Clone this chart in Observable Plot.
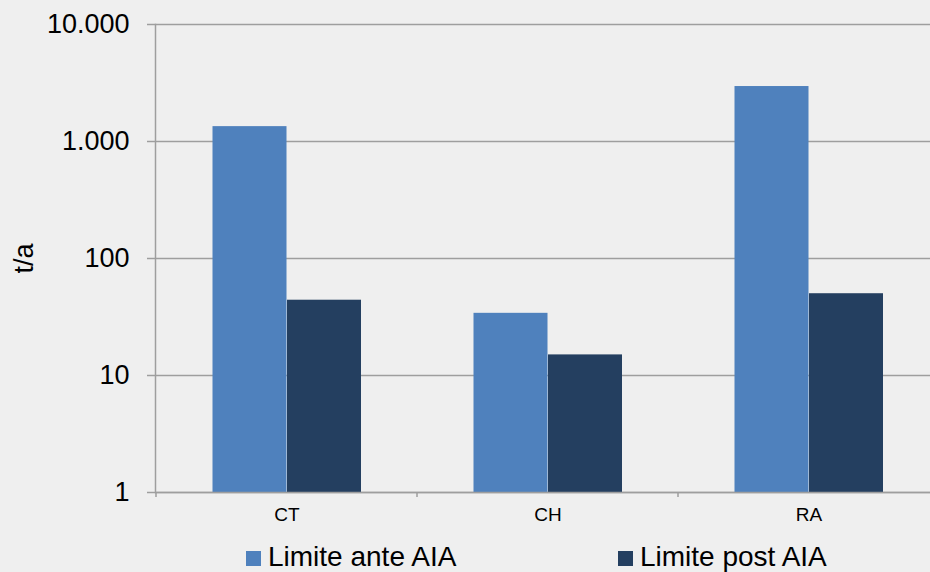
<!DOCTYPE html>
<html><head><meta charset="utf-8">
<script src="https://cdn.jsdelivr.net/npm/d3@7"></script>
<script src="https://cdn.jsdelivr.net/npm/@observablehq/plot@0.6"></script>
<style>
html,body{margin:0;padding:0;background:#efefef;overflow:hidden;}
#wrap{position:relative;width:930px;height:572px;overflow:hidden;font-family:"Liberation Sans",Arial,sans-serif;}
#chart{position:absolute;left:0;top:0;}
.leg{position:absolute;top:543px;font-size:28px;line-height:28px;color:#000;white-space:nowrap;}
.sw{position:absolute;width:15px;height:15px;top:551px;}
</style></head><body><div id="wrap"><div id="chart"></div></div>
<script>
const categories = ["CT", "CH", "RA"];
const seriesNames = ["Limite ante AIA", "Limite post AIA"];
const anteValues = [1340, 34, 2950];
const postValues = [44, 15, 50];
const yTicks = [1, 10, 100, 1000, 10000];
const yLabel = "t/a";
const colors = ["#4f81bd", "#243f60"];

const data = categories.map((c, i) => ({cat: c, ante: anteValues[i], post: postValues[i]}));
const fmt = d => d3.format(",")(d).replace(/,/g, ".");
const axisGray = "#9e9e9e";

// tick marks at category boundaries, placed with the x band scale
function boundaryTicks(index, scales, values, dims) {
  const g = d3.create("svg:g");
  const y0 = dims.height - dims.marginBottom;
  for (const c of categories) {
    const x = scales.x(c);
    g.append("line").attr("x1", x).attr("x2", x).attr("y1", y0).attr("y2", y0 + 5)
      .attr("stroke", axisGray).attr("stroke-width", 1.5);
  }
  return g.node();
}

const chart = Plot.plot({
  width: 940,
  height: 530,
  marginTop: 24,
  marginBottom: 38,
  marginLeft: 155,
  marginRight: 0,
  style: {background: "transparent", fontFamily: "'Liberation Sans', Arial, sans-serif", color: "#000"},
  x: {domain: categories, padding: 0, label: null},
  y: {type: "log", domain: [1, 10000], label: null},
  marks: [
    Plot.gridY(yTicks, {stroke: axisGray, strokeOpacity: 1, strokeWidth: 1.5}),
    Plot.barY(data, {x: "cat", y1: 1, y2: "ante", fill: colors[0], insetLeft: 56.5, insetRight: 130.5}),
    Plot.barY(data, {x: "cat", y1: 1, y2: "post", fill: colors[1], insetLeft: 131, insetRight: 56}),
    Plot.ruleY([1], {stroke: axisGray, strokeWidth: 1.5}),
    Plot.frame({anchor: "left", stroke: axisGray, strokeWidth: 1.5}),
    Plot.axisY(yTicks, {tickFormat: fmt, tickSize: 8, tickPadding: 18, fontSize: 27, fill: "#000", stroke: axisGray, strokeWidth: 1.5, strokeOpacity: 1,
      label: yLabel, labelAnchor: "center", labelOffset: 142, labelArrow: "none"}),
    Plot.axisX({tickSize: 0, tickPadding: 15, fontSize: 19, fill: "#000", label: null}),
    boundaryTicks
  ]
});
chart.style.maxWidth = "none";
document.getElementById("chart").appendChild(chart);

// legend
const wrap = document.getElementById("wrap");
const legX = [246, 618];
seriesNames.forEach((name, i) => {
  const sw = document.createElement("div");
  sw.className = "sw";
  sw.style.left = legX[i] + "px";
  sw.style.background = colors[i];
  wrap.appendChild(sw);
  const t = document.createElement("div");
  t.className = "leg";
  t.style.left = (legX[i] + 22) + "px";
  t.textContent = name;
  wrap.appendChild(t);
});
</script></body></html>
